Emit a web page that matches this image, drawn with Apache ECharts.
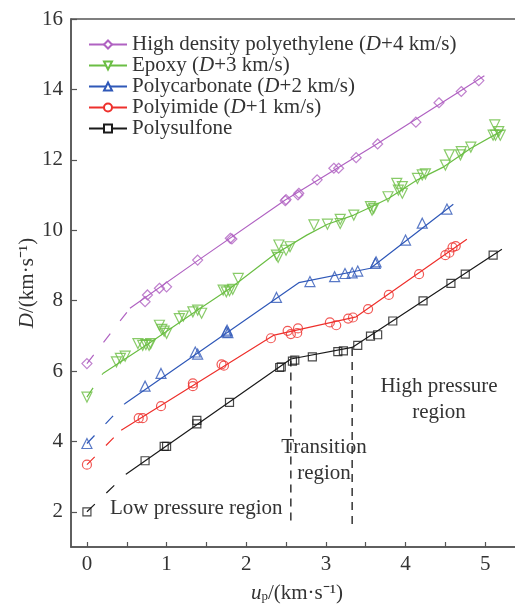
<!DOCTYPE html>
<html>
<head>
<meta charset="utf-8">
<script src="https://cdn.jsdelivr.net/npm/echarts@6/dist/echarts.min.js"></script>
<style>html,body{margin:0;padding:0;background:#fff}#c{width:515px;height:605px}</style>
</head>
<body>
<div id="c"></div>
<script>
// ---------- data (u_p km/s, D km/s) ----------
const names = ['High density polyethylene', 'Epoxy', 'Polycarbonate', 'Polyimide', 'Polysulfone'];
const shifts = ['+4', '+3', '+2', '+1', ''];

const hdpePts = [[0,6.21],[0.73,7.97],[0.76,8.16],[0.91,8.35],[1.0,8.39],[1.39,9.15],[1.80,9.77],[1.82,9.75],[2.49,10.84],[2.50,10.87],[2.65,11.0],[2.66,11.05],[2.89,11.43],[3.10,11.76],[3.16,11.76],[3.38,12.06],[3.65,12.45],[4.13,13.07],[4.42,13.62],[4.70,13.94],[4.92,14.25]];
const hdpeFit = [[0.54,7.78],[1.40,9.15],[2.49,10.86],[3.64,12.45],[4.99,14.39]];
const hdpeExt = [[0,6.21],[0.54,7.78]];

const epoxyPts = [[0,5.26],[0.37,6.26],[0.42,6.36],[0.48,6.42],[0.64,6.78],[0.70,6.73],[0.74,6.75],[0.78,6.73],[0.80,6.78],[0.91,7.30],[0.94,7.18],[0.97,7.13],[1.0,7.07],[1.16,7.49],[1.21,7.56],[1.33,7.68],[1.39,7.73],[1.44,7.64],[1.71,8.30],[1.75,8.25],[1.79,8.28],[1.83,8.32],[1.90,8.63],[2.38,9.29],[2.40,9.23],[2.41,9.58],[2.50,9.43],[2.55,9.53],[2.85,10.15],[3.02,10.17],[3.18,10.19],[3.18,10.31],[3.35,10.43],[3.56,10.67],[3.58,10.57],[3.60,10.62],[3.78,10.95],[3.89,11.33],[3.91,11.14],[3.96,11.24],[3.96,11.05],[4.15,11.47],[4.21,11.57],[4.25,11.60],[4.50,11.85],[4.55,12.14],[4.69,12.14],[4.70,12.23],[4.82,12.36],[5.10,12.70],[5.12,12.99],[5.13,12.70],[5.17,12.80],[5.19,12.70]];
const epoxyFit = [[0.2,5.93],[0.8,6.82],[1.4,7.75],[1.8,8.35],[2.34,9.29],[2.76,9.86],[3.02,10.17],[3.35,10.43],[3.56,10.65],[3.79,10.91],[4.15,11.43],[4.48,11.80],[4.82,12.33],[5.23,12.85]];
const epoxyExt = [[0,5.26],[0.2,5.93]];

const pcPts = [[0,3.94],[0.73,5.57],[0.93,5.93],[1.36,6.54],[1.39,6.48],[1.75,7.11],[1.76,7.16],[1.77,7.09],[2.38,8.09],[2.80,8.54],[3.11,8.68],[3.24,8.77],[3.33,8.79],[3.40,8.84],[3.62,9.06],[3.63,9.10],[4.0,9.72],[4.21,10.2],[4.52,10.6]];
const pcFit = [[0.47,5.06],[2.66,8.51],[3.56,8.92],[4.6,10.74]];
const pcExt = [[0,3.94],[0.47,5.06]];

const piPts = [[0,3.34],[0.65,4.66],[0.70,4.66],[0.93,5.0],[1.33,5.65],[1.33,5.57],[1.69,6.19],[1.72,6.15],[2.31,6.93],[2.52,7.14],[2.56,7.05],[2.64,7.08],[2.65,7.21],[3.05,7.38],[3.13,7.30],[3.28,7.49],[3.34,7.52],[3.53,7.76],[3.79,8.16],[4.17,8.75],[4.50,9.29],[4.55,9.36],[4.59,9.51],[4.63,9.55]];
const piFit = [[0.43,4.32],[2.35,7.02],[3.38,7.54],[4.77,9.74]];
const piExt = [[0,3.34],[0.43,4.32]];

const psPts = [[0,2.0],[0.73,3.45],[0.97,3.86],[1.0,3.86],[1.38,4.5],[1.38,4.6],[1.79,5.11],[2.42,6.1],[2.44,6.12],[2.58,6.28],[2.61,6.31],[2.83,6.40],[3.15,6.55],[3.22,6.57],[3.40,6.73],[3.56,6.99],[3.65,7.03],[3.84,7.42],[4.22,7.99],[4.57,8.49],[4.75,8.75],[5.10,9.29]];
const psFit = [[0.49,3.07],[2.56,6.34],[3.33,6.67],[5.21,9.46]];
const psExt = [[0,2.0],[0.49,3.07]];

const boundary1 = [[2.56,1.75],[2.56,6.3]];
const boundary2 = [[3.33,1.65],[3.33,6.65]];

const xTicks = [0,0.5,1,1.5,2,2.5,3,3.5,4,4.5,5];
const xLabels = [0,1,2,3,4,5];
const yTicks = [2,4,6,8,10,12,14,16];

// ---------- style ----------
const FONT = '"Liberation Serif","Times New Roman",serif';
const TXT = '#333';
const mats = [
  {name: names[0], color: '#B062C2', pts: hdpePts, fit: hdpeFit, ext: hdpeExt, sym: 'diamond', emp: 'emptyDiamond', rot: 0, size: 10},
  {name: names[1], color: '#6BBE44', pts: epoxyPts, fit: epoxyFit, ext: epoxyExt, sym: 'triangle', emp: 'emptyTriangle', rot: 180, size: 10},
  {name: names[2], color: '#2F58B8', pts: pcPts, fit: pcFit, ext: pcExt, sym: 'triangle', emp: 'emptyTriangle', rot: 0, size: 10},
  {name: names[3], color: '#EE302C', pts: piPts, fit: piFit, ext: piExt, sym: 'circle', emp: 'emptyCircle', rot: 0, size: 9},
  {name: names[4], color: '#1a1a1a', pts: psPts, fit: psFit, ext: psExt, sym: 'rect', emp: 'emptyRect', rot: 0, size: 8}
];

const series = [];
mats.forEach(m => {
  series.push({
    name: m.name, type: 'line', data: m.fit, symbol: m.emp, symbolRotate: m.rot, symbolSize: 8,
    showSymbol: false, color: m.color, lineStyle: {color: m.color, width: 1.2}, z: 2, silent: true
  });
  series.push({
    name: m.name + '_ext', type: 'line', data: m.ext, showSymbol: false, symbol: 'none',
    lineStyle: {color: m.color, width: 1.2, type: [11, 16]}, z: 2, silent: true
  });
  series.push({
    name: m.name + '_pts', type: 'scatter', data: m.pts, symbol: m.sym, symbolRotate: m.rot, symbolSize: m.size,
    itemStyle: {color: 'rgba(0,0,0,0)', borderColor: m.color, borderWidth: 1.2}, z: 3, silent: true
  });
});
[boundary1, boundary2].forEach((b, i) => {
  series.push({
    name: 'boundary' + i, type: 'line', data: b, showSymbol: false, symbol: 'none',
    lineStyle: {color: '#333', width: 1.5, type: [8, 6]}, z: 1, silent: true
  });
});

const chart = echarts.init(document.getElementById('c'), null, {renderer: 'canvas'});
chart.setOption({
  animation: false,
  backgroundColor: '#fff',
  textStyle: {fontFamily: FONT},
  grid: {left: 71, top: 19, width: 454, bottom: 58, outerBoundsMode: 'none', containLabel: false,
         show: true, borderColor: '#555', borderWidth: 1.5},
  legend: {
    data: names, orient: 'vertical', left: 88, top: 34, padding: 0, itemWidth: 38, itemHeight: 10, itemGap: 0,
    textStyle: {fontFamily: FONT, fontSize: 21, color: TXT,
      rich: {n: {fontFamily: FONT, fontSize: 21, color: TXT}, i: {fontFamily: FONT, fontSize: 21, color: TXT, fontStyle: 'italic'}}},
    formatter: function (nm) {
      const k = names.indexOf(nm);
      if (!shifts[k]) return '{n|' + nm + '}';
      return '{n|' + nm + ' (}{i|D}{n|' + shifts[k] + ' km/s)}';
    }
  },
  xAxis: {
    type: 'value', min: -0.2, max: 5.5,
    axisLine: {onZero: false, lineStyle: {color: '#555', width: 1.5}},
    axisTick: {inside: true, length: 5, customValues: xTicks, lineStyle: {color: '#555', width: 1.2}},
    axisLabel: {customValues: xLabels, hideOverlap: false, fontFamily: FONT, fontSize: 21, color: TXT, margin: 7},
    splitLine: {show: false},
    name: '', nameMoveOverlap: false
  },
  yAxis: {
    type: 'value', min: 1, max: 16,
    axisLine: {show: true, onZero: false, lineStyle: {color: '#555', width: 1.5}},
    axisTick: {show: true, inside: true, length: 6, customValues: yTicks, lineStyle: {color: '#555', width: 1.2}},
    axisLabel: {customValues: yTicks, hideOverlap: false, fontFamily: FONT, fontSize: 21, color: TXT, margin: 8},
    splitLine: {show: false},
    name: '{i|D}{n|/(km·s⁻¹)}', nameLocation: 'middle', nameGap: 33, nameMoveOverlap: false,
    nameTextStyle: {fontFamily: FONT, fontSize: 21, color: TXT,
      rich: {i: {fontFamily: FONT, fontSize: 21, fontStyle: 'italic', color: TXT},
             n: {fontFamily: FONT, fontSize: 21, color: TXT}}}
  },
  graphic: [
    {type: 'text', x: 297, y: 593, silent: true, style: {
      text: '{i|u}{s|p}{n|/(km·s⁻¹)}', align: 'center', verticalAlign: 'middle',
      font: '21px ' + FONT, fill: TXT,
      rich: {i: {fontFamily: FONT, fontSize: 21, fontStyle: 'italic', fill: TXT},
             s: {fontFamily: FONT, fontSize: 13, fill: TXT, lineHeight: 6, verticalAlign: 'bottom'},
             n: {fontFamily: FONT, fontSize: 21, fill: TXT}}}},
    {type: 'text', left: 110, top: 498, silent: true, style: {text: 'Low pressure region', font: '21px ' + FONT, fill: TXT}},
    {type: 'text', x: 324, y: 434, silent: true, style: {text: 'Transition\nregion', font: '21px ' + FONT, fill: TXT, align: 'center', verticalAlign: 'top', lineHeight: 26}},
    {type: 'text', x: 439, y: 373, silent: true, style: {text: 'High pressure\nregion', font: '21px ' + FONT, fill: TXT, align: 'center', verticalAlign: 'top', lineHeight: 26}}
  ],
  series: series
});
</script>
</body>
</html>
